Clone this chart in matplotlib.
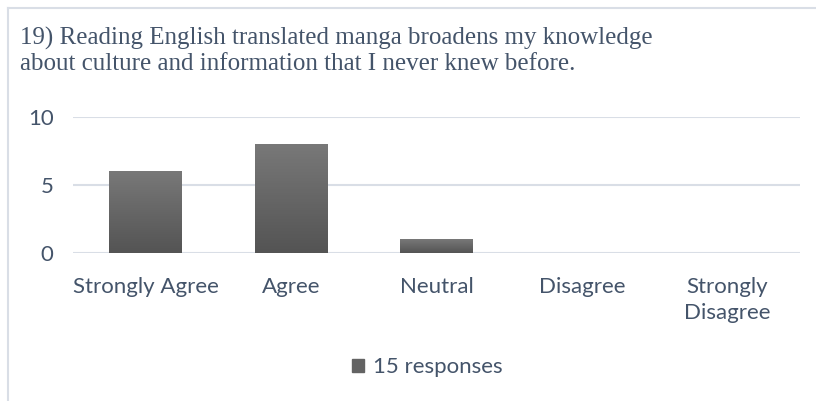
import matplotlib.pyplot as plt
import numpy as np
from matplotlib.lines import Line2D
from matplotlib.patches import Rectangle
from matplotlib.colors import LinearSegmentedColormap

categories = ['Strongly Agree', 'Agree', 'Neutral', 'Disagree', 'Strongly\nDisagree']
responses = [6, 8, 1, 0, 0]
series_name = '15 responses'
title = ('19) Reading English translated manga broadens my knowledge\n'
         'about culture and information that I never knew before.')

text_color = '#44546a'
grid_color = '#d9dee6'

fig = plt.figure(figsize=(8.16, 4.01), dpi=100)
ax = fig.add_axes([73 / 816, 1 - 253 / 401, 727 / 816, 136 / 401])

x = np.arange(len(categories))
bars = ax.bar(x, responses, width=0.5, color='#636363', zorder=2)

# vertical gradient on each bar, like the office chart
grad = np.linspace(0, 1, 100).reshape(-1, 1)
cmap = LinearSegmentedColormap.from_list('g', ['#545454', '#787878'])
for b in bars:
    if b.get_height() <= 0:
        continue
    x0, y0 = b.get_x(), b.get_y()
    w, h = b.get_width(), b.get_height()
    im = ax.imshow(grad, cmap=cmap, extent=[x0, x0 + w, y0, y0 + h],
                   origin='lower', aspect='auto', zorder=3)
    im.set_clip_path(b)
    b.set_facecolor('none')

ax.set_xlim(-0.5, len(categories) - 0.5)
ax.set_ylim(0, 10)
ax.set_yticks([0, 5, 10])
ax.yaxis.grid(True, color=grid_color, lw=1.5, zorder=0)
ax.set_axisbelow(True)
for s in ax.spines.values():
    s.set_visible(False)
ax.tick_params(length=0, colors=text_color, labelsize=16)
ax.tick_params(axis='y', pad=14)
ax.tick_params(axis='x', pad=17)
ax.set_xticks(x)
ax.set_xticklabels(categories, fontfamily='Lato', linespacing=1.4)
for lab in ax.get_yticklabels():
    lab.set_fontfamily('Lato')

fig.text(20 / 816, 1 - 70 / 401, title, ha='left', va='baseline',
         fontfamily='Liberation Serif', fontsize=18, color=text_color,
         linespacing=1.18)

leg = ax.legend([Rectangle((0, 0), 1, 1, color='#636363')], [series_name],
                loc='center', bbox_to_anchor=(0.487, -0.84), frameon=False,
                handlelength=0.55, handleheight=0.55, handletextpad=0.4,
                prop={'family': 'Lato', 'size': 16})
for t in leg.get_texts():
    t.set_color(text_color)

# chart frame (only top and left visible in the crop)
fig.add_artist(Line2D([8 / 816, 8 / 816], [0, 1 - 8 / 401], color=grid_color, lw=1.5))
fig.add_artist(Line2D([8 / 816, 1], [1 - 8 / 401, 1 - 8 / 401], color=grid_color, lw=1.5))

fig.savefig('out.png', dpi=100)
